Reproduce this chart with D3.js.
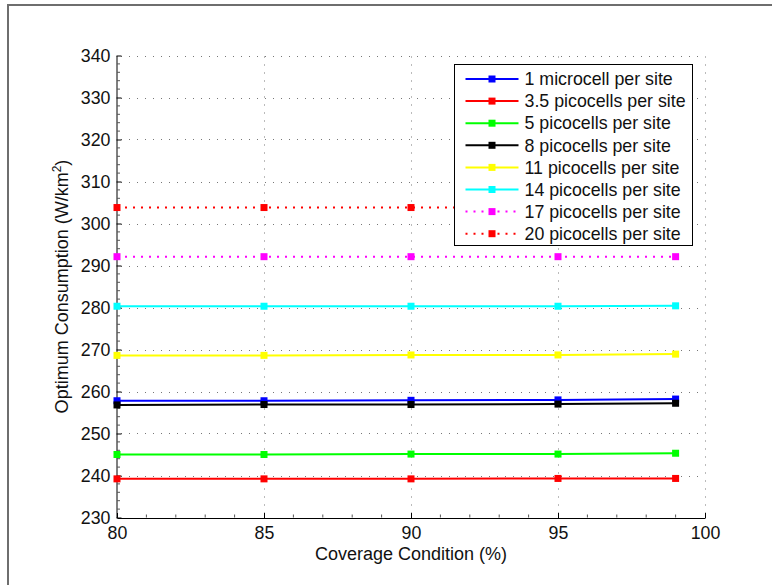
<!DOCTYPE html>
<html>
<head>
<meta charset="utf-8">
<script src="https://cdn.jsdelivr.net/npm/d3@7"></script>
<style>
  body { margin: 0; background: #fff; }
  svg text { font-family: "Liberation Sans", Arial, sans-serif; fill: #111; }
</style>
</head>
<body>
<script>
// x values (coverage condition, %)
var coverage = [80, 85, 90, 95, 99];

// optimum consumption per series (W/km2)
var micro1 = [257.8, 257.8, 257.9, 258.0, 258.2];
var pico3_5 = [239.2, 239.2, 239.2, 239.3, 239.3];
var pico5 = [245.0, 245.0, 245.1, 245.1, 245.3];
var pico8 = [256.8, 256.9, 256.9, 257.0, 257.2];
var pico11 = [268.6, 268.6, 268.7, 268.7, 268.9];
var pico14 = [280.3, 280.3, 280.3, 280.3, 280.4];
var pico17 = [292.1, 292.1, 292.1, 292.1, 292.1];
var pico20 = [303.8, 303.8, 303.8, 303.8, 303.8];

var seriesNames = ["1 microcell per site", "3.5 picocells per site", "5 picocells per site",
    "8 picocells per site", "11 picocells per site", "14 picocells per site",
    "17 picocells per site", "20 picocells per site"];
var seriesValues = [micro1, pico3_5, pico5, pico8, pico11, pico14, pico17, pico20];
var seriesColors = ["#0000ff", "#ff0000", "#00ff00", "#000000", "#ffff00", "#00ffff", "#ff00ff", "#ff0000"];
var seriesDotted = [false, false, false, false, false, false, true, true];

var xTicks = [80, 85, 90, 95, 100];
var yTicks = [230, 240, 250, 260, 270, 280, 290, 300, 310, 320, 330, 340];

var width = 772, height = 585;

var svg = d3.select("body").append("svg")
    .attr("width", width)
    .attr("height", height);

// outer figure frame (only left + top show in the window)
svg.append("path")
    .attr("d", "M8,585V5H772")
    .attr("fill", "none")
    .attr("stroke", "#6e6e6e")
    .attr("stroke-width", 2);

var x = d3.scaleLinear().domain([80, 100]).range([117, 705]);
var y = d3.scaleLinear().domain([230, 340]).range([517.5, 55.5]);

// grid
var grid = svg.append("g").attr("class", "grid")
    .attr("stroke", "#777")
    .attr("stroke-width", 1)
    .attr("stroke-dasharray", "1,7");
grid.selectAll("line.h")
    .data(yTicks.slice(1))
    .enter().append("line")
    .attr("class", "h")
    .attr("x1", x(80) + 4).attr("x2", x(100))
    .attr("y1", d => Math.round(y(d)) + 0.5).attr("y2", d => Math.round(y(d)) + 0.5);
grid.selectAll("line.v")
    .data(xTicks.slice(1))
    .enter().append("line")
    .attr("class", "v")
    .attr("y1", y(230) - 4).attr("y2", y(340))
    .attr("x1", d => Math.round(x(d)) + 0.5).attr("x2", d => Math.round(x(d)) + 0.5);

// axes, ticks pointing inward
var yAxis = d3.axisLeft(y).tickValues(yTicks).tickSizeInner(-5).tickSizeOuter(0).tickPadding(6);
var xAxis = d3.axisBottom(x).tickValues(xTicks).tickSizeInner(-5).tickSizeOuter(0).tickPadding(8);

var gy = svg.append("g").attr("transform", "translate(" + (x(80) - 0.5) + ",0)").call(yAxis);
var gx = svg.append("g").attr("transform", "translate(0," + (y(230) + 0.5) + ")").call(xAxis);
[gx, gy].forEach(function(g) {
    g.select(".domain").attr("stroke", "#000");
    g.selectAll(".tick line").attr("stroke", "#000");
    g.selectAll(".tick text").attr("font-size", "17.8px").attr("fill", "#111");
});
gy.selectAll(".tick text").attr("dy", "0.35em");

// minor ticks
var yMinor = d3.range(232, 340, 2).filter(v => v % 10 !== 0);
svg.append("g").selectAll("line")
    .data(yMinor).enter().append("line")
    .attr("x1", x(80)).attr("x2", x(80) + 3)
    .attr("y1", d => y(d)).attr("y2", d => y(d))
    .attr("stroke", "#555").attr("stroke-width", 1);
var xMinor = d3.range(81, 100, 1).filter(v => v % 5 !== 0);
svg.append("g").selectAll("line")
    .data(xMinor).enter().append("line")
    .attr("x1", d => x(d)).attr("x2", d => x(d))
    .attr("y1", y(230)).attr("y2", y(230) - 3)
    .attr("stroke", "#555").attr("stroke-width", 1);

// axis labels
svg.append("text")
    .attr("x", (x(80) + x(100)) / 2)
    .attr("y", 560)
    .attr("text-anchor", "middle")
    .attr("font-size", "18px")
    .text("Coverage Condition (%)");

var yl = svg.append("text")
    .attr("transform", "translate(68," + ((y(230) + y(340)) / 2) + ") rotate(-90)")
    .attr("text-anchor", "middle")
    .attr("font-size", "18px");
yl.append("tspan").text("Optimum Consumption (W/km");
yl.append("tspan").attr("font-size", "12px").attr("dy", "-7").text("2");
yl.append("tspan").attr("dy", "7").text(")");

// series
var line = d3.line()
    .x((d, i) => x(coverage[i]))
    .y(d => y(d));

seriesValues.forEach(function(vals, k) {
    var g = svg.append("g");
    g.append("path")
        .datum(vals)
        .attr("d", line)
        .attr("fill", "none")
        .attr("stroke", seriesColors[k])
        .attr("stroke-width", 2)
        .attr("stroke-dasharray", seriesDotted[k] ? "2,6" : null);
    g.selectAll("rect")
        .data(vals).enter().append("rect")
        .attr("x", (d, i) => x(coverage[i]) - 3.5)
        .attr("y", d => y(d) - 3.5)
        .attr("width", 7).attr("height", 7)
        .attr("fill", seriesColors[k]);
});

// legend
var lg = svg.append("g").attr("transform", "translate(454.5,64.5)");
lg.append("rect")
    .attr("width", 238).attr("height", 181)
    .attr("fill", "#fff").attr("stroke", "#000").attr("stroke-width", 1);
var item = lg.selectAll("g.item")
    .data(seriesNames).enter().append("g")
    .attr("class", "item")
    .attr("transform", (d, i) => "translate(0," + (14.5 + i * 22.1) + ")");
item.append("line")
    .attr("x1", 11).attr("x2", 64)
    .attr("stroke", (d, i) => seriesColors[i])
    .attr("stroke-width", 2)
    .attr("stroke-dasharray", (d, i) => seriesDotted[i] ? "2,6" : null);
item.append("rect")
    .attr("x", 34).attr("y", -3.5).attr("width", 7).attr("height", 7)
    .attr("fill", (d, i) => seriesColors[i]);
item.append("text")
    .attr("x", 70).attr("dy", "0.35em")
    .attr("font-size", "17.8px")
    .text(d => d);
</script>
</body>
</html>
